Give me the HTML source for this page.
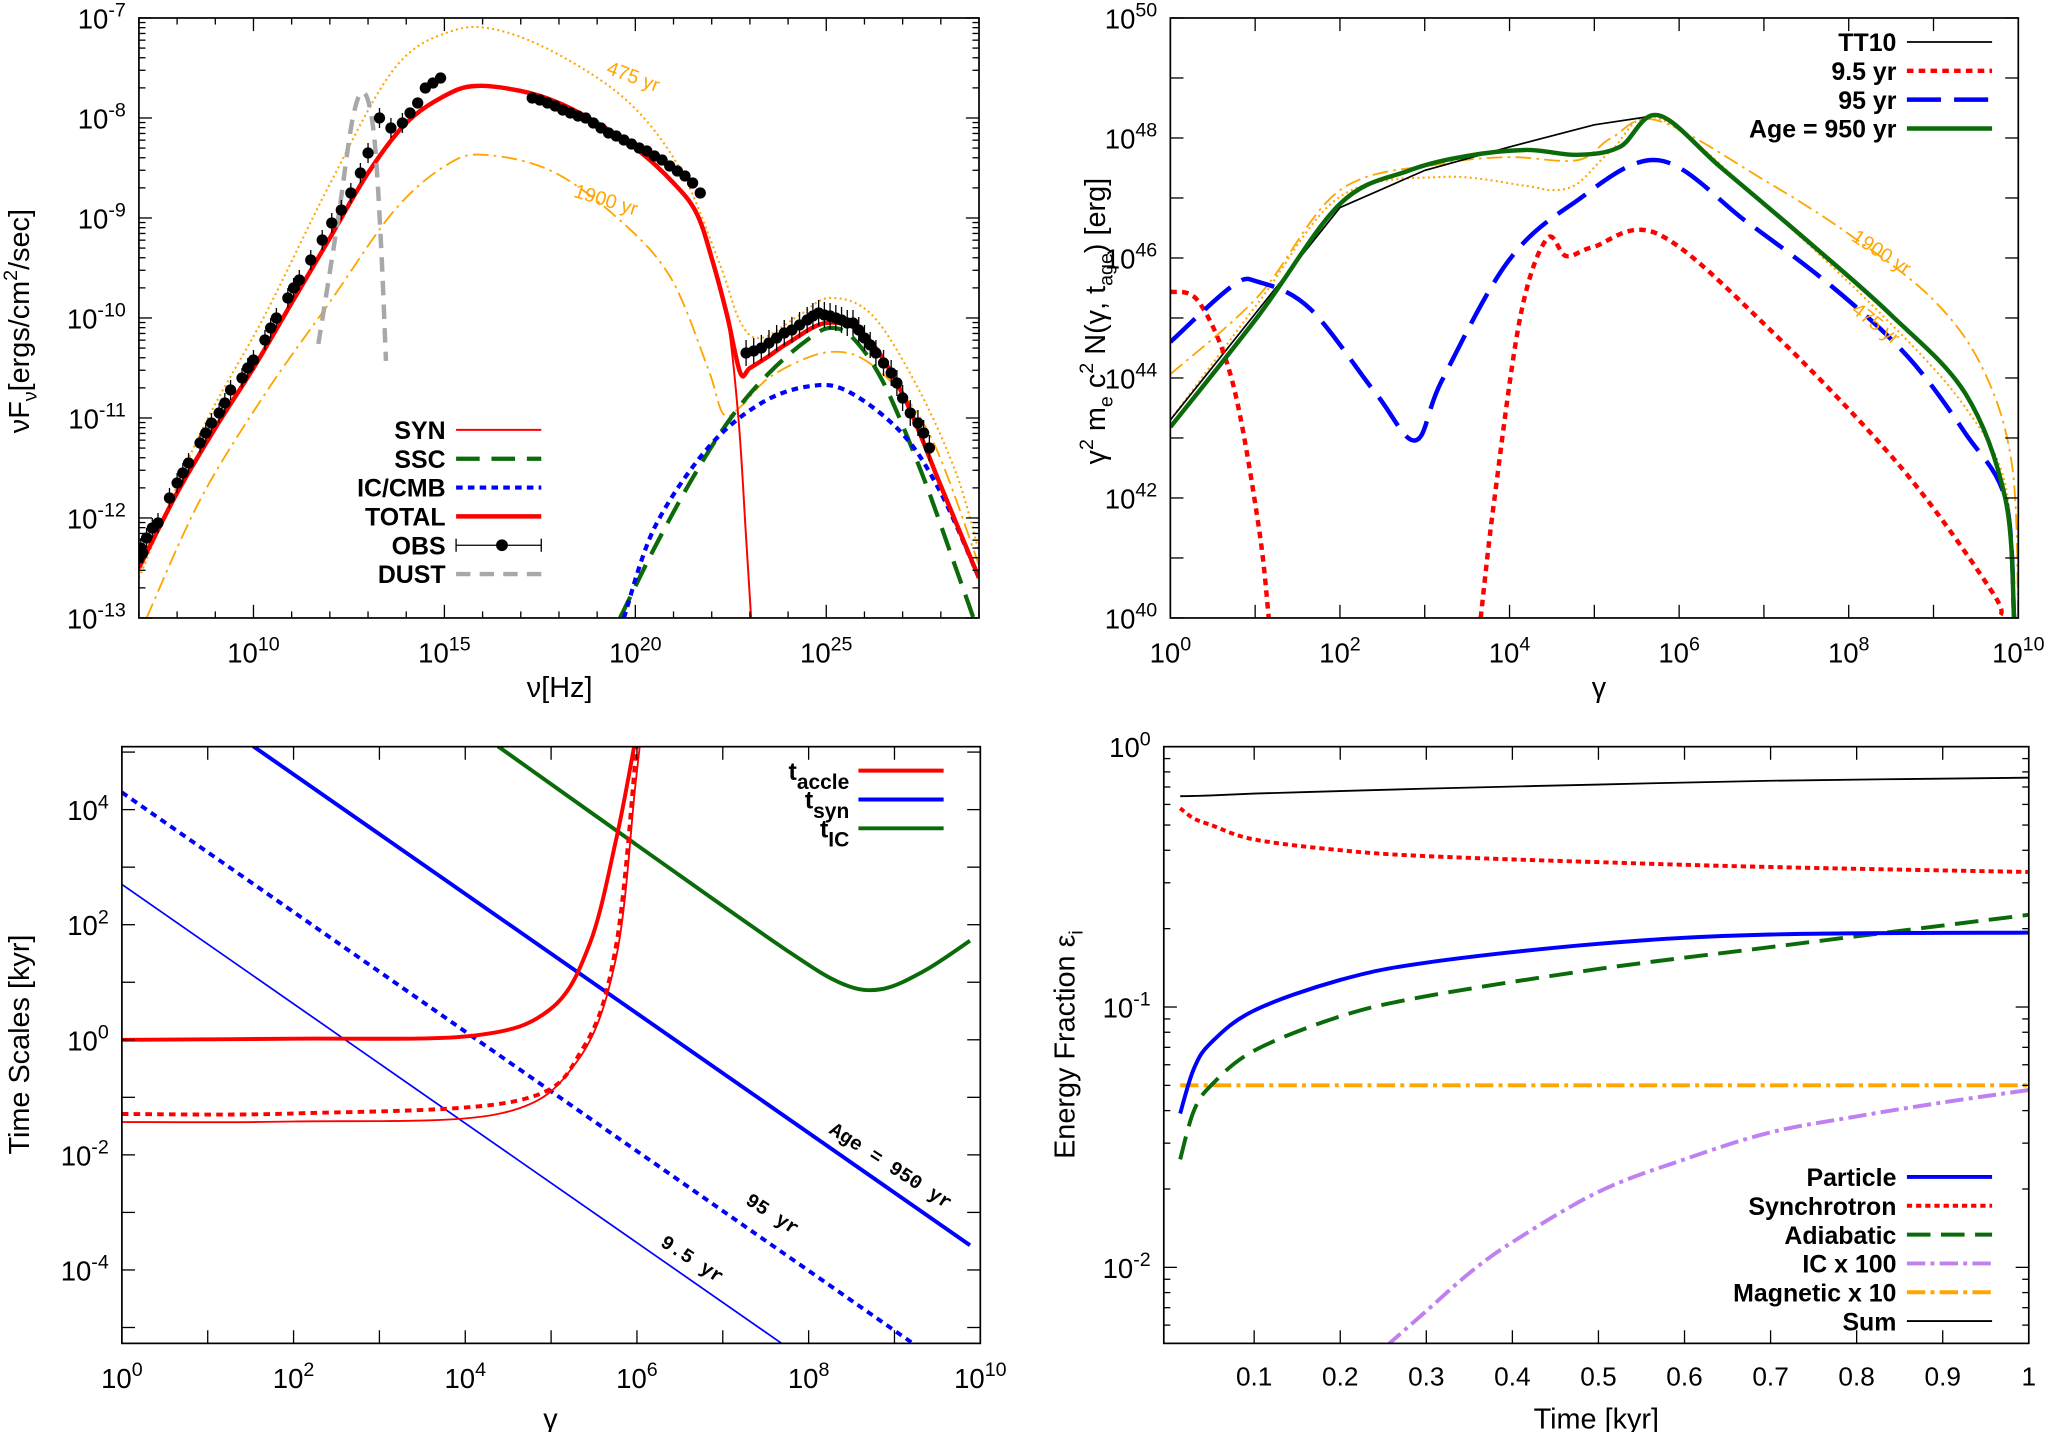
<!DOCTYPE html>
<html><head><meta charset="utf-8"><style>
html,body{margin:0;padding:0;background:#fff}
svg{display:block}
text{font-family:"Liberation Sans",sans-serif;fill:#000}
.lg{font-weight:bold;font-size:19px}
.cl{font-family:"Liberation Mono",monospace;font-size:15px}
</style></head><body>
<svg id="fig" xmlns="http://www.w3.org/2000/svg" width="2055" height="1432" viewBox="0 0 1568 1092.6"></svg>
<script>
// ---------- Panel A: SED ----------
const obsLogNu=[7.0,7.05,7.1,7.2,7.35,7.5,7.8,8.0,8.15,8.3,8.6,8.75,8.9,9.1,9.25,9.4,9.7,9.85,10.0,10.3,10.45,10.6,10.9,11.05,11.2,11.5,11.8,12.05,12.3,12.55,12.8,13.0,13.3,13.6,13.9,14.1,14.3,14.5,14.7,14.9,17.3,17.5,17.7,17.9,18.1,18.3,18.5,18.7,18.9,19.1,19.3,19.5,19.7,19.9,20.1,20.3,20.5,20.7,20.9,21.1,21.3,21.5,21.7,22.9,23.1,23.3,23.5,23.7,23.9,24.1,24.3,24.5,24.65,24.8,24.95,25.1,25.25,25.4,25.55,25.7,25.85,26.0,26.15,26.3,26.5,26.7,26.85,27.0,27.2,27.4,27.55,27.7];
const obsLogF=[-12.4,-12.3,-12.35,-12.2,-12.1,-12.05,-11.8,-11.65,-11.55,-11.45,-11.25,-11.15,-11.05,-10.95,-10.85,-10.72,-10.6,-10.5,-10.42,-10.22,-10.1,-10.0,-9.8,-9.7,-9.62,-9.42,-9.22,-9.05,-8.92,-8.75,-8.55,-8.35,-8.0,-8.1,-8.05,-7.95,-7.85,-7.7,-7.65,-7.6,-7.8,-7.82,-7.85,-7.88,-7.92,-7.95,-7.98,-8.0,-8.05,-8.1,-8.15,-8.18,-8.22,-8.26,-8.3,-8.33,-8.38,-8.42,-8.48,-8.53,-8.58,-8.65,-8.75,-10.35,-10.33,-10.3,-10.25,-10.2,-10.15,-10.12,-10.07,-10.02,-9.98,-9.95,-9.97,-9.98,-10.0,-10.02,-10.05,-10.05,-10.12,-10.2,-10.27,-10.35,-10.45,-10.55,-10.65,-10.8,-10.95,-11.05,-11.15,-11.3];
const totNu=[7.0,8.0,9.0,10.0,11.0,12.0,13.0,14.0,15.0,15.8,17.0,18.0,19.0,20.0,21.0,21.6,22.0,22.4,22.75,23.0,23.5,24.0,25.0,26.0,27.0,28.0,29.0];
const totF=[-12.5,-11.75,-11.1,-10.5,-9.85,-9.2,-8.55,-8.05,-7.78,-7.68,-7.73,-7.85,-8.05,-8.3,-8.65,-8.95,-9.4,-9.97,-10.55,-10.5,-10.38,-10.25,-10.05,-10.17,-10.76,-11.68,-12.6];
const synNu=[7.0,8.0,9.0,10.0,11.0,12.0,13.0,14.0,15.0,15.8,17.0,18.0,19.0,20.0,21.0,21.6,22.0,22.4,22.7,22.9,23.05];
const synF=[-12.5,-11.75,-11.1,-10.5,-9.85,-9.2,-8.55,-8.05,-7.78,-7.68,-7.73,-7.85,-8.05,-8.3,-8.65,-8.95,-9.4,-9.97,-11.0,-12.2,-13.1];
const sscNu=[19.6,20.5,21.5,22.5,23.5,24.5,25.1,25.7,26.5,27.5,28.3,28.9];
const sscF=[-13.0,-12.3,-11.6,-11.0,-10.55,-10.22,-10.1,-10.2,-10.65,-11.55,-12.4,-13.05];
const icNu=[19.7,20.5,21.9,23.3,24.6,25.6,27.0,28.0,29.0];
const icF=[-13.0,-12.1,-11.3,-10.85,-10.68,-10.74,-11.16,-11.75,-12.6];
const y475Nu=[7.0,8.6,10.3,12.0,13.7,15.2,16.5,18.2,19.9,21.2,22.2,22.75,23.3,24.3,25.1,26.2,27.4,28.4,29.0];
const y475F=[-12.6,-11.16,-9.97,-8.66,-7.5,-7.13,-7.13,-7.41,-7.87,-8.53,-9.45,-10.04,-10.2,-9.97,-9.8,-9.97,-10.7,-11.55,-12.34];
const y1900Nu=[7.2,8.6,10.3,12.0,13.7,15.1,16.1,17.8,19.5,20.9,21.9,22.3,22.75,23.6,25.1,26.3,27.7,29.0];
const y1900F=[-13.0,-11.82,-10.76,-9.84,-8.92,-8.46,-8.37,-8.53,-8.99,-9.58,-10.5,-10.96,-10.89,-10.57,-10.34,-10.5,-11.16,-12.47];
const dustNu=[11.7,12.2,12.6,12.9,13.15,13.33,13.47];
const dustF=[-10.26,-9.05,-8.0,-7.75,-8.15,-9.18,-10.43];
// ---------- Panel B: electron spectrum ----------
const tt10G=[0,2,3,4,5,5.75];
const tt10N=[43.3,46.84,47.46,47.85,48.22,48.38];
const g950G=[0,1.04,2,2.8,3.5,4.2,4.8,5.3,5.75,6.5,7.5,8.5,9.38,9.85,9.95];
const g950N=[43.18,45.04,46.9,47.45,47.7,47.8,47.72,47.85,48.38,47.5,46.3,45.05,43.73,41.97,40.0];
const g95G=[0,0.73,1.04,1.65,2.43,2.89,3.2,3.97,4.74,5.75,6.8,7.84,8.7,9.38,9.85,9.95];
const g95N=[44.6,45.53,45.6,45.15,43.73,42.96,43.95,45.92,46.9,47.63,46.6,45.48,44.35,43.07,41.97,40.0];
const g9aG=[0,0.34,0.73,1.04,1.16];
const g9aN=[45.44,45.26,43.95,41.54,40.0];
const g9bG=[3.66,3.82,4.13,4.44,4.67,4.98,5.75,7.06,8.61,9.69,9.78];
const g9bN=[40.0,41.97,45.04,46.32,46.03,46.18,46.4,44.82,42.52,40.44,40.0];
const o475G=[0,1.04,2,3.2,4.2,4.5,4.8,5.2,5.75,7.0,8.5,9.38,9.85,9.95];
const o475N=[43.3,45.26,47.02,47.35,47.2,47.13,47.24,47.79,48.33,46.9,44.9,43.5,42.2,40.0];
const o1900G=[0,1.04,2,3.2,4.0,4.8,5.2,5.75,7.0,8.0,9.0,9.6,9.93,10.0];
const o1900N=[44.06,45.37,47.13,47.57,47.68,47.63,48.0,48.29,47.3,46.4,45.3,44.1,42.5,40.0];
// ---------- Panel C: time scales ----------
const acc950G=[0,2,4.08,4.99,5.45,5.76,5.98];
const acc950T=[0.0,0.02,0.07,0.53,1.67,3.5,5.2];
const acc95G=[0,2,4.6,5.37,5.76,6.0];
const acc95T=[-1.29,-1.28,-1.06,-0.15,1.67,5.2];
const acc9G=[0,2,4.38,5.3,5.76,5.98,6.04];
const acc9T=[-1.43,-1.42,-1.29,-0.38,1.45,4.4,5.2];
const syn950G=[1.53,9.88];
const syn950T=[5.1,-3.57];
const syn95G=[0,9.22];
const syn95T=[4.3,-5.28];
const syn9G=[0,7.69];
const syn9T=[2.7,-5.28];
const icG=[4.38,6.21,7.74,8.4,8.85,9.35,9.88];
const icT=[5.1,3.16,1.56,0.97,0.88,1.2,1.72];
// ---------- Panel D: energy fractions ----------
const tKyr=[0.014,0.03,0.05,0.1,0.2,0.3,0.5,0.7,1.0];
const sumF=[0.645,0.647,0.65,0.66,0.675,0.69,0.715,0.74,0.76];
const synFr=[0.58,0.53,0.5,0.44,0.40,0.38,0.36,0.345,0.33];
const partF=[0.039,0.058,0.073,0.097,0.127,0.148,0.175,0.19,0.193];
const adiaF=[0.026,0.04,0.05,0.068,0.092,0.11,0.14,0.17,0.226];
const magF=[0.05,0.05,0.05,0.05,0.05,0.05,0.05,0.05,0.05];
const icT100=[0.254,0.3,0.35,0.4,0.5,0.6,0.7,0.8,0.9,1.0];
const icF100=[0.005,0.0068,0.0095,0.0125,0.0195,0.026,0.033,0.038,0.043,0.048];

const NS='http://www.w3.org/2000/svg';
const svg=document.getElementById('fig');
function mk(tag,attrs,name,parent){
  const el=document.createElementNS(NS,tag);
  for(const k in attrs) el.setAttribute(k,attrs[k]);
  
  
  (parent||svg).appendChild(el);
  return el;
}
function axes(x0,x1,y0,y1,dx0,dx1,dy0,dy1){
  return {x0,x1,y0,y1,sx:v=>x0+(v-dx0)/(dx1-dx0)*(x1-x0),sy:v=>y1-(v-dy0)/(dy1-dy0)*(y1-y0)};
}
function smooth(pts,straight){
  if(straight||pts.length<3) return 'M'+pts.map(p=>p[0].toFixed(1)+','+p[1].toFixed(1)).join('L');
  let d='M'+pts[0][0].toFixed(1)+','+pts[0][1].toFixed(1);
  for(let i=0;i<pts.length-1;i++){
    const p0=pts[i-1]||pts[i],p1=pts[i],p2=pts[i+1],p3=pts[i+2]||p2;
    const c1=[p1[0]+(p2[0]-p0[0])/6,p1[1]+(p2[1]-p0[1])/6];
    const c2=[p2[0]-(p3[0]-p1[0])/6,p2[1]-(p3[1]-p1[1])/6];
    d+='C'+c1[0].toFixed(1)+','+c1[1].toFixed(1)+' '+c2[0].toFixed(1)+','+c2[1].toFixed(1)+' '+p2[0].toFixed(1)+','+p2[1].toFixed(1);
  }
  return d;
}
function curve(ax,xs,ys,style,name,g,fx,fy,straight){
  fx=fx||(v=>v);fy=fy||(v=>v);
  const pts=xs.map((x,i)=>[ax.sx(fx(x)),ax.sy(fy(ys[i]))]);
  const a=Object.assign({d:smooth(pts,straight),fill:'none','stroke-linecap':'butt'},style);
  return mk('path',a,name,g);
}
function supLabel(x,y,base,exp,anchor,name){
  const t=mk('text',{x:x,y:y,'font-size':21,'text-anchor':anchor},name);
  t.appendChild(document.createTextNode(base));
  const s=mk('tspan',{dy:-9,'font-size':15},name+'-exponent',t);
  s.textContent=exp;
  return t;
}
function frame(ax,name){
  mk('rect',{x:ax.x0,y:ax.y0,width:ax.x1-ax.x0,height:ax.y1-ax.y0,fill:'none',stroke:'#000','stroke-width':1.3},name);
}
function tick(x1,y1,x2,y2,name){mk('line',{x1,y1,x2,y2,stroke:'#000','stroke-width':1},name);}
function logYTicks(ax,lo,hi,step,labStep,minor){
  for(let e=lo;e<=hi;e+=step){
    const y=ax.sy(e);
    tick(ax.x0,y,ax.x0+10,y,'y-tick');tick(ax.x1,y,ax.x1-10,y,'y-tick');
    if(((e-lo)%labStep)===0) supLabel(ax.x0-10,y+8,'10',String(e),'end','y-tick-label');
    if(minor&&e<hi) for(let k=2;k<10;k++){const ym=ax.sy(e+Math.log10(k));tick(ax.x0,ym,ax.x0+5,ym,'y-minor-tick');tick(ax.x1,ym,ax.x1-5,ym,'y-minor-tick');}
  }
}
function logXTicks(ax,lo,hi,step,labStep,minorStep){
  for(let e=lo;e<=hi+1e-9;e+=minorStep){
    const x=ax.sx(e);const major=Math.abs(((e-lo)%step))<1e-9;
    const L=major?10:5;
    tick(x,ax.y1,x,ax.y1-L,'x-tick');tick(x,ax.y0,x,ax.y0+L,'x-tick');
    if(major&&Math.abs((e-lo)%labStep)<1e-9) supLabel(x,ax.y1+34,'10',String(e),'middle','x-tick-label');
  }
}
function clip(ax,id){
  const cp=mk('clipPath',{id:id},id);
  mk('rect',{x:ax.x0,y:ax.y0,width:ax.x1-ax.x0,height:ax.y1-ax.y0},id+'-rect',cp);
  return mk('g',{'clip-path':'url(#'+id+')'},id+'-group');
}
function rotLabel(x,y,txt,name,size){
  const t=mk('text',{x:x,y:y,'font-size':size||22,'text-anchor':'middle',transform:'rotate(-90 '+x+' '+y+')'},name);
  return t;
}
const RED='#ff0000',GRN='#0b6b0b',BLU='#0000ff',ORG='#ffa500',PUR='#bf80f0',GRY='#a8a8a8';

// ===== Panel A =====
const A=axes(106,747,13.7,471.5,7,29,-13,-7);
const gA=clip(A,'clip-a');
curve(A,y475Nu,y475F,{stroke:ORG,'stroke-width':1.6,'stroke-dasharray':'1.5 2.5'},'curve-475yr',gA);
curve(A,y1900Nu,y1900F,{stroke:ORG,'stroke-width':1.4,'stroke-dasharray':'12 4 2 4'},'curve-1900yr',gA);
curve(A,sscNu,sscF,{stroke:GRN,'stroke-width':3.2,'stroke-dasharray':'18 9'},'curve-ssc',gA);
curve(A,icNu,icF,{stroke:BLU,'stroke-width':3.2,'stroke-dasharray':'5 4'},'curve-ic-cmb',gA);
curve(A,synNu,synF,{stroke:RED,'stroke-width':1.5},'curve-syn',gA);
curve(A,totNu,totF,{stroke:RED,'stroke-width':3.4},'curve-total',gA);
curve(A,dustNu,dustF,{stroke:GRY,'stroke-width':3.4,'stroke-dasharray':'11 7'},'curve-dust',gA);
obsLogNu.forEach((x,i)=>{
  const cx=A.sx(x),cy=A.sy(obsLogF[i]);
  const e=(x<14?0.1:(x>22?0.13:0.03));
  if(e>0.05){
    mk('line',{x1:cx,y1:A.sy(obsLogF[i]+e),x2:cx,y2:A.sy(obsLogF[i]-e),stroke:'#000','stroke-width':1},'obs-errorbar',gA);
  }
  mk('circle',{cx:cx,cy:cy,r:4.3,fill:'#000'},'obs-point',gA);
});
frame(A,'sed-frame');
logYTicks(A,-13,-7,1,1,true);
logXTicks(A,10,25,5,5,1);
for(let e=7;e<10;e++){const x=A.sx(e);tick(x,A.y1,x,A.y1-5,'x-minor-tick');tick(x,A.y0,x,A.y0+5,'x-minor-tick');}
for(let e=26;e<=29;e++){const x=A.sx(e);tick(x,A.y1,x,A.y1-5,'x-minor-tick');tick(x,A.y0,x,A.y0+5,'x-minor-tick');}
{const t=mk('text',{x:427,y:532,'font-size':22,'text-anchor':'middle'},'sed-x-axis-title');t.textContent='ν[Hz]';}
{const t=rotLabel(22,245,'','sed-y-axis-title');t.textContent='νF';const s=mk('tspan',{dy:6,'font-size':15},'sub',t);s.textContent='ν';const r=mk('tspan',{dy:-6},'rest',t);r.textContent='[ergs/cm';const s2=mk('tspan',{dy:-9,'font-size':15},'sup',t);s2.textContent='2';const r2=mk('tspan',{dy:9},'rest2',t);r2.textContent='/sec]';}
{const t=mk('text',{x:462,y:56,'font-size':15,transform:'rotate(20 462 56)','font-family':'Liberation Mono, monospace'},'label-475yr');t.textContent='475 yr';t.setAttribute('style','fill:'+ORG);}
{const t=mk('text',{x:437,y:150,'font-size':15,transform:'rotate(17 437 150)','font-family':'Liberation Mono, monospace'},'label-1900yr');t.textContent='1900 yr';t.setAttribute('style','fill:'+ORG);}
const legA=[['SYN',{stroke:RED,'stroke-width':1.5}],['SSC',{stroke:GRN,'stroke-width':3.2,'stroke-dasharray':'18 9'}],['IC/CMB',{stroke:BLU,'stroke-width':3.2,'stroke-dasharray':'5 4'}],['TOTAL',{stroke:RED,'stroke-width':3.4}],['OBS',{stroke:'#000','stroke-width':1}],['DUST',{stroke:GRY,'stroke-width':3.4,'stroke-dasharray':'11 7'}]];
legA.forEach((l,i)=>{const y=328+i*22;const t=mk('text',{x:340,y:y+7,'text-anchor':'end',class:'lg'},'legend-'+l[0].toLowerCase().replace('/','-'));t.textContent=l[0];
  mk('line',Object.assign({x1:348,y1:y,x2:413,y2:y},l[1]),'legend-sample');
  if(l[0]==='OBS'){mk('circle',{cx:383,cy:y,r:4.5},'legend-obs-dot');mk('line',{x1:348,y1:y-5,x2:348,y2:y+5,stroke:'#000'},'legend-cap');mk('line',{x1:413,y1:y-5,x2:413,y2:y+5,stroke:'#000'},'legend-cap');}});

// ===== Panel B =====
const B=axes(893,1540,13.7,471.5,0,10,40,50);
const gB=clip(B,'clip-b');
curve(B,o1900G,o1900N,{stroke:ORG,'stroke-width':1.4,'stroke-dasharray':'12 4 2 4'},'curve-1900yr',gB);
curve(B,o475G,o475N,{stroke:ORG,'stroke-width':1.6,'stroke-dasharray':'1.5 2.5'},'curve-475yr',gB);
curve(B,tt10G,tt10N,{stroke:'#000','stroke-width':1.3},'curve-tt10',gB,null,null,true);
curve(B,g9aG,g9aN,{stroke:RED,'stroke-width':3.4,'stroke-dasharray':'5 4'},'curve-9.5yr-low',gB);
curve(B,g9bG,g9bN,{stroke:RED,'stroke-width':3.4,'stroke-dasharray':'5 4'},'curve-9.5yr',gB);
curve(B,g95G,g95N,{stroke:BLU,'stroke-width':3.4,'stroke-dasharray':'26 10'},'curve-95yr',gB);
curve(B,g950G,g950N,{stroke:GRN,'stroke-width':3.4},'curve-950yr',gB);
frame(B,'spectrum-frame');
logYTicks(B,40,50,1,2,false);
logXTicks(B,0,10,1,2,1);
{const t=mk('text',{x:1220,y:532,'font-size':22,'text-anchor':'middle'},'spectrum-x-axis-title');t.textContent='γ';}
{const t=rotLabel(843,245,'','spectrum-y-axis-title');t.textContent='γ';const a=mk('tspan',{dy:-9,'font-size':15},'s',t);a.textContent='2';const b=mk('tspan',{dy:9},'s',t);b.textContent=' m';const c=mk('tspan',{dy:6,'font-size':15},'s',t);c.textContent='e';const d=mk('tspan',{dy:-6},'s',t);d.textContent=' c';const e=mk('tspan',{dy:-9,'font-size':15},'s',t);e.textContent='2';const f=mk('tspan',{dy:9},'s',t);f.textContent=' N(γ, t';const g=mk('tspan',{dy:6,'font-size':15},'s',t);g.textContent='age';const h=mk('tspan',{dy:-6},'s',t);h.textContent=') [erg]';}
{const t=mk('text',{x:1412,y:183,'font-size':15,transform:'rotate(33 1412 183)','font-family':'Liberation Mono, monospace'},'label-1900yr-b');t.textContent='1900 yr';t.setAttribute('style','fill:'+ORG);}
{const t=mk('text',{x:1412,y:238,'font-size':15,transform:'rotate(38 1412 238)','font-family':'Liberation Mono, monospace'},'label-475yr-b');t.textContent='475 yr';t.setAttribute('style','fill:'+ORG);}
const legB=[['TT10',{stroke:'#000','stroke-width':1.3}],['9.5 yr',{stroke:RED,'stroke-width':3.4,'stroke-dasharray':'5 4'}],['95 yr',{stroke:BLU,'stroke-width':3.4,'stroke-dasharray':'26 10'}],['Age = 950 yr',{stroke:GRN,'stroke-width':3.4}]];
legB.forEach((l,i)=>{const y=32+i*22;const t=mk('text',{x:1447,y:y+7,'text-anchor':'end',class:'lg'},'legend-entry');t.textContent=l[0];mk('line',Object.assign({x1:1455,y1:y,x2:1520,y2:y},l[1]),'legend-sample');});

// ===== Panel C =====
const C=axes(93,748,569.7,1025,0,10,-5.276,5.094);
const gC=clip(C,'clip-c');
curve(C,syn950G,syn950T,{stroke:BLU,'stroke-width':3},'curve-tsyn-950yr',gC);
curve(C,syn95G,syn95T,{stroke:BLU,'stroke-width':3,'stroke-dasharray':'5 4'},'curve-tsyn-95yr',gC);
curve(C,syn9G,syn9T,{stroke:BLU,'stroke-width':1.3},'curve-tsyn-9.5yr',gC);
curve(C,icG,icT,{stroke:GRN,'stroke-width':3},'curve-tic',gC);
curve(C,acc950G,acc950T,{stroke:RED,'stroke-width':3},'curve-taccle-950yr',gC);
curve(C,acc95G,acc95T,{stroke:RED,'stroke-width':3,'stroke-dasharray':'5 4'},'curve-taccle-95yr',gC);
curve(C,acc9G,acc9T,{stroke:RED,'stroke-width':1.4},'curve-taccle-9.5yr',gC);
frame(C,'timescale-frame');
for(let e=-5;e<=5;e++){const y=C.sy(e);tick(C.x0,y,C.x0+10,y,'y-tick');tick(C.x1,y,C.x1-10,y,'y-tick');if(e%2===0&&e>=-4&&e<=4)supLabel(C.x0-10,y+8,'10',String(e),'end','y-tick-label');}
logXTicks(C,0,10,1,2,1);
{const t=mk('text',{x:420,y:1090,'font-size':22,'text-anchor':'middle'},'timescale-x-axis-title');t.textContent='γ';}
{const t=rotLabel(22,797,'','timescale-y-axis-title');t.textContent='Time Scales [kyr]';}
[['Age = 950 yr',632,864,33],['95 yr',568,918,33],['9.5 yr',503,950,33]].forEach(l=>{const t=mk('text',{x:l[1],y:l[2],transform:'rotate('+l[3]+' '+l[1]+' '+l[2]+')',class:'cl','font-weight':'bold'},'curve-label');t.textContent=l[0];});
[['accle',RED],['syn',BLU],['IC',GRN]].forEach((l,i)=>{const y=588+i*22;const t=mk('text',{x:648,y:y+7,'text-anchor':'end',class:'lg','font-size':21},'legend-entry');t.textContent='t';const s=mk('tspan',{dy:7,'font-size':16},'sub',t);s.textContent=l[0];mk('line',{x1:655,y1:y,x2:720,y2:y,stroke:l[1],'stroke-width':3},'legend-sample');});

// ===== Panel D =====
const D=axes(888,1548,569.7,1025,-0.005,1.0,-2.292,0);
const gD=clip(D,'clip-d');
const lg=v=>Math.log10(v);
curve(D,tKyr,magF,{stroke:ORG,'stroke-width':3,'stroke-dasharray':'14 4 3 4'},'curve-magnetic',gD,null,lg);
curve(D,icT100,icF100,{stroke:PUR,'stroke-width':3,'stroke-dasharray':'14 4 3 4'},'curve-ic',gD,null,lg);
curve(D,tKyr,adiaF,{stroke:GRN,'stroke-width':3,'stroke-dasharray':'18 8'},'curve-adiabatic',gD,null,lg);
curve(D,tKyr,partF,{stroke:BLU,'stroke-width':3},'curve-particle',gD,null,lg);
curve(D,tKyr,synFr,{stroke:RED,'stroke-width':3,'stroke-dasharray':'4 3'},'curve-synchrotron',gD,null,lg);
curve(D,tKyr,sumF,{stroke:'#000','stroke-width':1.4},'curve-sum',gD,null,lg);
frame(D,'fraction-frame');
for(let e=-2;e<=0;e++){const y=D.sy(e);tick(D.x0,y,D.x0+10,y,'y-tick');tick(D.x1,y,D.x1-10,y,'y-tick');supLabel(D.x0-10,y+8,'10',String(e),'end','y-tick-label');
  for(let k=2;k<10;k++){const v=e-1+Math.log10(k);if(v<-2.292)continue;const ym=D.sy(v);tick(D.x0,ym,D.x0+5,ym,'y-minor-tick');tick(D.x1,ym,D.x1-5,ym,'y-minor-tick');}}
for(let i=1;i<=10;i++){const v=i/10,x=D.sx(v);tick(x,D.y1,x,D.y1-10,'x-tick');tick(x,D.y0,x,D.y0+10,'x-tick');const t=mk('text',{x:x,y:D.y1+32,'font-size':20,'text-anchor':'middle'},'x-tick-label');t.textContent=i===10?'1':v.toFixed(1);}
{const t=mk('text',{x:1218,y:1090,'font-size':22,'text-anchor':'middle'},'fraction-x-axis-title');t.textContent='Time [kyr]';}
{const t=rotLabel(820,797,'','fraction-y-axis-title');t.textContent='Energy Fraction ε';const s=mk('tspan',{dy:6,'font-size':15},'sub',t);s.textContent='i';}
const legD=[['Particle',{stroke:BLU,'stroke-width':3}],['Synchrotron',{stroke:RED,'stroke-width':3,'stroke-dasharray':'4 3'}],['Adiabatic',{stroke:GRN,'stroke-width':3,'stroke-dasharray':'18 8'}],['IC x 100',{stroke:PUR,'stroke-width':3,'stroke-dasharray':'14 4 3 4'}],['Magnetic x 10',{stroke:ORG,'stroke-width':3,'stroke-dasharray':'14 4 3 4'}],['Sum',{stroke:'#000','stroke-width':1.4}]];
legD.forEach((l,i)=>{const y=898+i*22;const t=mk('text',{x:1447,y:y+7,'text-anchor':'end',class:'lg'},'legend-entry');t.textContent=l[0];mk('line',Object.assign({x1:1455,y1:y,x2:1520,y2:y},l[1]),'legend-sample');});
</script>
</body></html>
